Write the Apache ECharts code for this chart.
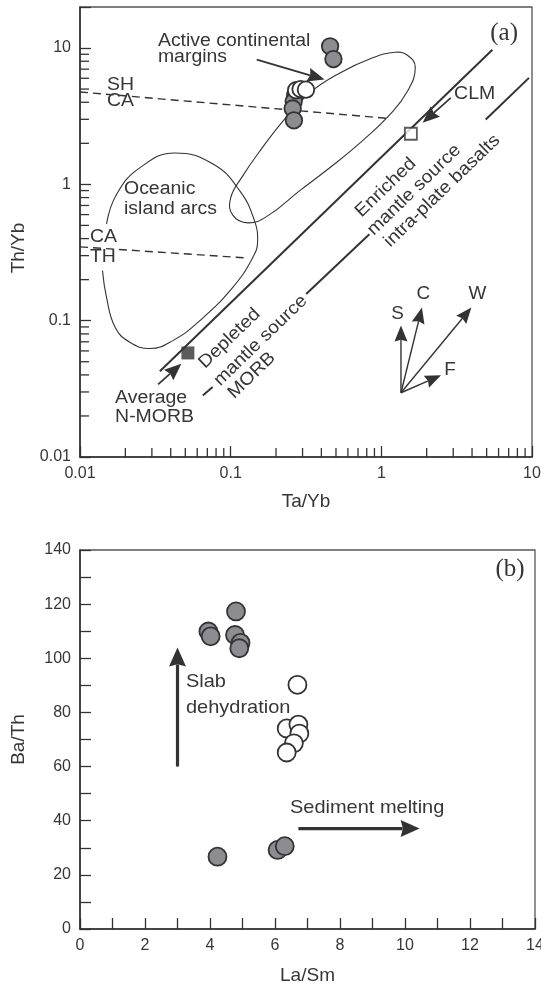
<!DOCTYPE html>
<html><head><meta charset="utf-8">
<script src="https://cdn.jsdelivr.net/npm/echarts@6/dist/echarts.min.js"></script>
<style>html,body{margin:0;padding:0;background:#fff}#c{width:541px;height:989px}</style>
</head><body><div id="c"></div>
<script>
// ================= Panel (a): Th/Yb vs Ta/Yb =================
const aLogTickLabels = ['0.01', '0.1', '1', '10'];
const aMinorX = [0.02,0.03,0.04,0.05,0.06,0.07,0.08,0.09,0.2,0.3,0.4,0.5,0.6,0.7,0.8,0.9,2,3,4,5,6,7,8,9];
const aMinorY = [0.02,0.03,0.04,0.05,0.06,0.07,0.08,0.09,0.2,0.3,0.4,0.5,0.6,0.7,0.8,0.9,2,3,4,5,6,7,8,9];
const aGrey = [[0.457,10.3],[0.481,8.3],[0.268,4.5],[0.262,4.05],[0.258,3.6],[0.263,2.95]];
const aWhite = [[0.272,4.9],[0.291,5.0],[0.316,4.95]];
const aNMorb = [[0.052,0.058]];
const aClm = [[1.57,2.35]];
const aMantleArray = [[0.0339,0.0426],[5.46,9.73]];
const aMorbLine1 = [[0.0653,0.0283],[0.076,0.0326]];
const aMorbLine2 = [[0.317,0.157],[0.833,0.431]];
const aMorbLine3 = [[4.93,2.99],[9.55,6.04]];
const aShCa = [[0.01,4.76],[1.10,3.05]];
const aCaTh = [[0.01,0.348],[0.130,0.288]];
const aActiveField = [[1.68,7.22],[1.49,8.85],[1.24,9.31],[0.859,8.41],[0.527,6.53],[0.333,4.67],[0.228,3.01],[0.160,1.82],[0.120,1.15],[0.100,0.796],[0.103,0.597],[0.130,0.522],[0.176,0.587],[0.286,0.895],[0.489,1.41],[0.771,2.15],[1.13,3.22],[1.49,4.82]];
const aOceanicField = [[0.0141,0.233],[0.0150,0.148],[0.0171,0.0895],[0.0214,0.0695],[0.0291,0.0625],[0.0413,0.0714],[0.0624,0.100],[0.103,0.175],[0.140,0.290],[0.151,0.385],[0.144,0.540],[0.115,0.895],[0.0764,1.41],[0.0426,1.70],[0.0249,1.32],[0.0175,0.846],[0.0150,0.513]];
const aArrows = [
  [[0.149,8.22],[0.420,5.87]],     // to active continental margins
  [[2.89,4.31],[1.88,2.83]],       // CLM
  [[0.033,0.0341],[0.0471,0.0483]] // average N-MORB
];
const aVectors = [
  [[1.35,0.0296],[1.35,0.092]],  // S
  [[1.35,0.0296],[1.86,0.125]],  // C
  [[1.35,0.0296],[3.96,0.125]],  // W
  [[1.35,0.0296],[2.49,0.0397]]  // F
];
const aTextLeft = [
  ['Active continental', 0.0329, 11.3],
  ['margins', 0.0329, 8.55],
  ['SH', 0.0151, 5.33],
  ['CA', 0.0151, 4.07],
  ['CA', 0.01164, 0.412],
  ['TH', 0.01164, 0.291],
  ['Oceanic', 0.0196, 0.920],
  ['island arcs', 0.0196, 0.661],
  ['Average', 0.0171, 0.0272],
  ['N-MORB', 0.0171, 0.0196],
  ['CLM', 3.04, 4.58]
];
const aTextVec = [['S',1.28,0.1127],['C',1.90,0.158],['W',4.34,0.158],['F',2.86,0.0432]];
const aTextRot = [
  ['Depleted', 0.0984, 0.0740],
  ['mantle source', 0.158, 0.0715],
  ['MORB', 0.138, 0.0397],
  ['Enriched', 1.07, 0.946],
  ['mantle source', 1.65, 0.910],
  ['intra-plate basalts', 2.53, 0.895]
];
const aTag = [['(a)', 6.53, 12.9]];

// ================= Panel (b): Ba/Th vs La/Sm =================
const bGrey = [[4.80,117.3],[3.95,109.9],[4.02,108.1],[4.77,108.6],[4.94,105.7],[4.90,103.7],[4.23,26.7],[6.08,29.2],[6.3,30.6]];
const bWhite = [[6.69,90.2],[6.36,74.1],[6.72,75.5],[6.75,72.2],[6.58,68.6],[6.36,65.2]];
const bArrows = [
  [[3.0,60],[3.0,104]],     // slab dehydration
  [[6.72,37.1],[10.45,37.1]] // sediment melting
];
const bTextLeft = [['Slab',3.26,91.2],['dehydration',3.26,81.8],['Sediment melting',6.46,44.9]];
const bTag = [['(b)', 13.23, 132.9]];

// ================= styling / helpers =================
const FONT = '"Liberation Sans", Arial, sans-serif';
const SERIF = '"Liberation Serif", "Times New Roman", serif';
const INK = '#333';
const TXT = '#363636';
const GREY = '#8c8c91';

function logFmt(v) {
  const l = Math.log10(v), r = Math.round(l);
  if (Math.abs(l - r) > 1e-6) return '';
  return aLogTickLabels[r + 2] || '';
}

function arrowShape(p0, p1, hl, hw, lw) {
  const dx = p1[0]-p0[0], dy = p1[1]-p0[1], L = Math.hypot(dx, dy);
  const ux = dx/L, uy = dy/L, nx = -uy, ny = ux;
  const bx = p1[0]-ux*hl, by = p1[1]-uy*hl;
  return {type:'group', children:[
    {type:'line', shape:{x1:p0[0], y1:p0[1], x2:bx+ux*2, y2:by+uy*2}, style:{stroke:INK, lineWidth:lw}},
    {type:'polygon', shape:{points:[[p1[0],p1[1]],[bx+nx*hw/2, by+ny*hw/2],[bx+ux*hl*0.12, by+uy*hl*0.12],[bx-nx*hw/2, by-ny*hw/2]]}, style:{fill:INK}}
  ]};
}

function arrowSeries(list, gi, hl, hw, lw) {
  return {type:'custom', xAxisIndex:gi, yAxisIndex:gi, silent:true, z:6,
    encode:{x:[0,2], y:[1,3]},
    data:list.map(a => [a[0][0], a[0][1], a[1][0], a[1][1]]),
    renderItem:(params, api) => arrowShape(api.coord([api.value(0), api.value(1)]), api.coord([api.value(2), api.value(3)]), hl, hw, lw)
  };
}

function textSeries(list, gi, o) {
  return {type:'custom', xAxisIndex:gi, yAxisIndex:gi, silent:true, z:8,
    data:list.map(d => [d[1], d[2]]),
    renderItem:(params, api) => {
      const p = api.coord([api.value(0), api.value(1)]);
      return {type:'text', x:p[0], y:p[1], rotation:(o.rot||0)*Math.PI/180, scaleX:o.sx||1,
        style:{text:list[params.dataIndex][0], fill:TXT, fontSize:o.size, fontFamily:o.family||FONT,
               align:o.align||'left', verticalAlign:'middle'}};
    }
  };
}

function tickSeries(vals, gi, dir, len, lo) {
  return {type:'custom', xAxisIndex:gi, yAxisIndex:gi, silent:true, z:5,
    data:vals.map(v => dir === 'x' ? [v, lo] : [lo, v]),
    renderItem:(params, api) => {
      const p = api.coord([api.value(0), api.value(1)]);
      const q = dir === 'x' ? [p[0], p[1]-len] : [p[0]+len, p[1]];
      return {type:'line', shape:{x1:p[0], y1:p[1], x2:q[0], y2:q[1]}, style:{stroke:INK, lineWidth:1.3}};
    }
  };
}

function lineSeries(data, gi, opts) {
  return Object.assign({type:'line', xAxisIndex:gi, yAxisIndex:gi, data:data, symbol:'none', silent:true,
    lineStyle:{color:INK, width:2}, z:3, animation:false}, opts||{});
}

const axisCommon = {
  axisLine:{show:true, onZero:false, lineStyle:{color:INK, width:1.6}},
  axisTick:{show:true, inside:true, length:11, lineStyle:{color:INK, width:1.3}},
  splitLine:{show:false},
  nameLocation:'middle',
  nameTextStyle:{fontSize:19, color:TXT, fontFamily:FONT}
};

const option = {
  animation:false,
  backgroundColor:'#fff',
  grid:[
    {left:80, top:7, width:452, height:450, show:true, borderColor:'#555', borderWidth:1.3, outerBoundsMode:'none'},
    {left:80, top:550, width:455, height:379, show:true, borderColor:'#555', borderWidth:1.3, outerBoundsMode:'none'}
  ],
  xAxis:[
    Object.assign({}, axisCommon, {type:'log', logBase:10, gridIndex:0, min:0.01, max:10, name:'Ta/Yb', nameGap:35,
      axisLabel:{fontSize:16, color:TXT, fontFamily:FONT, margin:9, formatter:logFmt}}),
    Object.assign({}, axisCommon, {type:'value', gridIndex:1, min:0, max:14, interval:1, name:'La/Sm', nameGap:37,
      axisLabel:{fontSize:16, color:TXT, fontFamily:FONT, margin:9, formatter:v => (v % 2 === 0 ? String(v) : '')}})
  ],
  yAxis:[
    Object.assign({}, axisCommon, {type:'log', logBase:10, gridIndex:0, min:0.01, max:20, name:'Th/Yb', nameGap:52,
      nameTextStyle:{fontSize:19, color:TXT, fontFamily:FONT, padding:[0,32,0,0]},
      axisLabel:{fontSize:16, color:TXT, fontFamily:FONT, margin:9, formatter:logFmt}}),
    Object.assign({}, axisCommon, {type:'value', gridIndex:1, min:0, max:140, interval:10, name:'Ba/Th', nameGap:52,
      axisLabel:{fontSize:16, color:TXT, fontFamily:FONT, margin:9, formatter:v => (v % 20 === 0 ? String(v) : '')}})
  ],
  series:[
    tickSeries(aMinorX, 0, 'x', 9, 0.01),
    tickSeries(aMinorY, 0, 'y', 9, 0.01),
    // fields and reference lines
    {type:'custom', xAxisIndex:0, yAxisIndex:0, silent:true, z:2,
      data:[aActiveField[0]],
      renderItem:(params, api) => ({type:'polygon', shape:{points:aActiveField.map(p => api.coord(p)), smooth:0.45},
        style:{fill:'none', stroke:INK, lineWidth:1.1}})},
    lineSeries(aOceanicField, 0, {smooth:0.45, lineStyle:{color:INK, width:1.1}}),
    lineSeries(aMantleArray, 0),
    lineSeries(aMorbLine1, 0),
    lineSeries(aMorbLine2, 0),
    lineSeries(aMorbLine3, 0),
    lineSeries(aShCa, 0, {lineStyle:{color:INK, width:1.4, type:[8,5]}}),
    lineSeries(aCaTh, 0, {lineStyle:{color:INK, width:1.4, type:[8,5]}}),
    arrowSeries(aArrows, 0, 17, 14, 1.7),
    arrowSeries(aVectors, 0, 16, 13, 1.4),
    {type:'scatter', xAxisIndex:0, yAxisIndex:0, data:aNMorb, symbol:'rect', symbolSize:13, z:7,
      itemStyle:{color:INK, borderColor:INK, borderWidth:0}},
    {type:'scatter', xAxisIndex:0, yAxisIndex:0, data:aClm, symbol:'rect', symbolSize:12, z:7,
      itemStyle:{color:'#fff', borderColor:INK, borderWidth:1.8}},
    {type:'scatter', xAxisIndex:0, yAxisIndex:0, data:aGrey, symbol:'circle', symbolSize:16.5, z:7,
      itemStyle:{color:GREY, borderColor:INK, borderWidth:1.8, opacity:1}},
    {type:'scatter', xAxisIndex:0, yAxisIndex:0, data:aWhite, symbol:'circle', symbolSize:16.5, z:7,
      itemStyle:{color:'#fff', borderColor:INK, borderWidth:1.8, opacity:1}},
    textSeries(aTextLeft, 0, {size:18, sx:1.08}),
    textSeries(aTextVec, 0, {size:18, sx:1.05, align:'center'}),
    textSeries(aTextRot, 0, {size:18, sx:1.08, align:'center', rot:44}),
    textSeries(aTag, 0, {size:25, family:SERIF, align:'center'}),
    // panel (b)
    arrowSeries(bArrows, 1, 19, 17, 3.2),
    {type:'scatter', xAxisIndex:1, yAxisIndex:1, data:bGrey, symbol:'circle', symbolSize:18, z:7,
      itemStyle:{color:GREY, borderColor:INK, borderWidth:1.8, opacity:1}},
    {type:'scatter', xAxisIndex:1, yAxisIndex:1, data:bWhite, symbol:'circle', symbolSize:18, z:7,
      itemStyle:{color:'#fff', borderColor:INK, borderWidth:1.8, opacity:1}},
    textSeries(bTextLeft, 1, {size:18.5, sx:1.08}),
    textSeries(bTag, 1, {size:25, family:SERIF, align:'center'})
  ]
};

const chart = echarts.init(document.getElementById('c'), null, {renderer:'canvas'});
chart.setOption(option);
</script>
</body></html>
